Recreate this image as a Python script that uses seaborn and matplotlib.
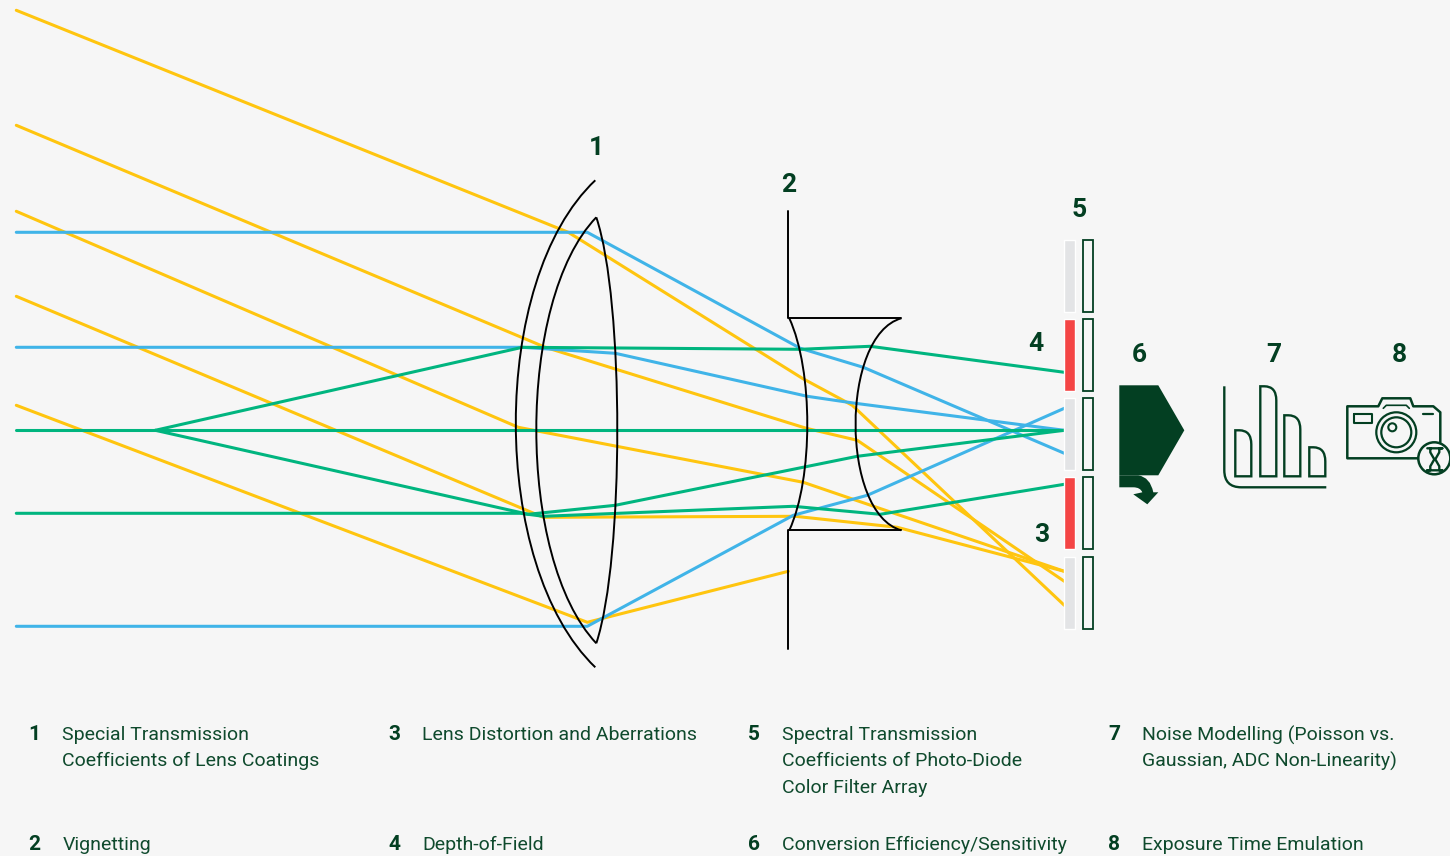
# Optical path of a camera simulation: rays, lenses, sensor and legend
import matplotlib
matplotlib.use("Agg")

import matplotlib.pyplot as plt
import pandas as pd
import seaborn as sns
from matplotlib.patches import Circle, PathPatch, Polygon
from matplotlib.path import Path

# ==========================================================
# RAYS (pixel space)
# ==========================================================

yellow_1 = [(16, 10), (568, 232), (802, 378), (852, 405), (1064, 605)]
yellow_2 = [(16, 125), (545, 347), (806, 428), (857, 440), (1064, 581)]
yellow_3 = [(16, 211), (518, 427), (803, 482), (1064, 571)]
yellow_4 = [(16, 296), (543, 517), (795, 516), (897, 527), (1064, 571)]
yellow_5 = [(16, 405), (587, 622), (788, 571)]

blue_1 = [(16, 232), (587, 232), (800, 348), (863, 367), (1064, 453)]
blue_2 = [(16, 347), (522, 347), (615, 353), (807, 396), (855, 403), (1064, 430)]
blue_3 = [(16, 626), (587, 626), (793, 515), (867, 495), (1064, 408)]

green_1 = [(16, 430), (1064, 430)]
green_2 = [(155, 430), (522, 347), (800, 349), (870, 346), (1064, 372)]
green_3 = [(155, 430), (528, 514), (615, 505), (857, 456), (1064, 430)]
green_4 = [(16, 513), (520, 513), (543, 516), (793, 506), (880, 514), (1064, 484)]

rays = {
    "yellow": [yellow_1, yellow_2, yellow_3, yellow_4, yellow_5],
    "blue": [blue_1, blue_2, blue_3],
    "green": [green_1, green_2, green_3, green_4],
}

# ==========================================================
# LENSES AND SENSOR
# ==========================================================

# cubic curves: start, control, control, end
lens_curves = [
    [(595, 180), (489, 280), (489, 565), (595, 667)],
    [(596, 217), (516, 300), (516, 558), (596, 643)],
    [(596, 217), (624, 300), (624, 558), (596, 643)],
    [(789, 318), (813, 370), (813, 478), (789, 530)],
    [(901, 318), (840, 335), (840, 513), (901, 530)],
]
lens_lines = [
    [(788, 211), (788, 318), (901, 318)],
    [(788, 649), (788, 530), (901, 530)],
]

sensor_tops = [240, 319, 398, 477, 557]
sensor_colors = ["#E3E4E6", "#F44545", "#E3E4E6", "#F44545", "#E3E4E6"]

# ==========================================================
# TEXT
# ==========================================================

diagram_numbers = ["1", "2", "5", "4", "3", "6", "7", "8"]
diagram_number_x = [596, 788, 1079, 1036, 1041, 1139, 1274, 1399]
diagram_number_y = [155, 192, 217, 351, 542, 362, 362, 362]

legend_numbers = ["1", "3", "5", "7", "2", "4", "6", "8"]
legend_number_x = [28, 388, 748, 1108, 28, 388, 748, 1108]
legend_number_y = [740, 740, 740, 740, 850, 850, 850, 850]

legend_lines = [
    "Special Transmission", "Coefficients of Lens Coatings",
    "Lens Distortion and Aberrations",
    "Spectral Transmission", "Coefficients of Photo-Diode", "Color Filter Array",
    "Noise Modelling (Poisson vs.", "Gaussian, ADC Non-Linearity)",
    "Vignetting", "Depth-of-Field",
    "Conversion Efficiency/Sensitivity", "Exposure Time Emulation",
]
legend_line_x = [62, 62, 422, 782, 782, 782, 1142, 1142, 62, 422, 782, 1142]
legend_line_y = [740, 766, 740, 740, 766, 793, 740, 766, 850, 850, 850, 850]

BACKGROUND = "#F6F6F6"
DARK_GREEN = "#033F22"
TEXT_GREEN = "#0F4A2D"
palette = {"yellow": "#FFC50F", "blue": "#40B4E8", "green": "#00B57F"}

# ==========================================================
# FIGURE
# ==========================================================

sns.set_theme(style="white")
plt.rcParams["font.family"] = ["Roboto", "DejaVu Sans"]

fig = plt.figure(figsize=(14.5, 8.56), dpi=100, facecolor=BACKGROUND)
ax = fig.add_axes([0, 0, 1, 1], facecolor=BACKGROUND)

# long table for seaborn, one row per ray vertex
records = []
for family, family_rays in rays.items():
    for ray_id, ray in enumerate(family_rays):
        for order, (px, py) in enumerate(ray):
            records.append(
                {"family": family, "ray": ray_id, "order": order, "x": px, "y": py}
            )
ray_table = pd.DataFrame(records)

sns.lineplot(
    data=ray_table,
    x="x",
    y="y",
    hue="family",
    hue_order=["yellow", "blue", "green"],
    units="ray",
    estimator=None,
    sort=False,
    palette=palette,
    linewidth=2.2,
    legend=False,
    ax=ax,
)

# lens outlines
for curve in lens_curves:
    codes = [Path.MOVETO, Path.CURVE4, Path.CURVE4, Path.CURVE4]
    ax.add_patch(
        PathPatch(Path(curve, codes), fill=False, edgecolor="black", linewidth=1.4, zorder=5)
    )
for line in lens_lines:
    xs, ys = zip(*line)
    ax.plot(xs, ys, color="black", linewidth=1.4, zorder=5)

# sensor: filter strip and photo-diode outlines
ax.bar([1069.5] * 5, [72] * 5, width=11, bottom=sensor_tops, color=sensor_colors, zorder=6)
ax.bar(
    [1088] * 5, [72] * 5, width=10, bottom=sensor_tops,
    facecolor="none", edgecolor=DARK_GREEN, linewidth=1.3, zorder=6,
)

# conversion block with the small curved arrow
ax.add_patch(
    Polygon(
        [(1119, 385), (1158, 385), (1184, 430), (1158, 475), (1119, 475)],
        color=DARK_GREEN, linewidth=0, zorder=6,
    )
)
arrow_path = Path(
    [(1119, 475), (1138, 475), (1150, 477), (1153, 492), (1158, 492), (1147, 504),
     (1133, 494), (1142, 492), (1140, 487), (1133, 487), (1119, 487), (1119, 475)],
    [Path.MOVETO, Path.LINETO, Path.CURVE3, Path.CURVE3, Path.LINETO, Path.LINETO,
     Path.LINETO, Path.LINETO, Path.CURVE3, Path.CURVE3, Path.LINETO, Path.CLOSEPOLY],
)
ax.add_patch(PathPatch(arrow_path, facecolor=DARK_GREEN, edgecolor="none", zorder=6))

# noise icon: axis and four round-topped bars
axis_path = Path(
    [(1224, 386), (1224, 470), (1224, 487), (1241, 487), (1326, 487)],
    [Path.MOVETO, Path.LINETO, Path.CURVE3, Path.CURVE3, Path.LINETO],
)
ax.add_patch(PathPatch(axis_path, fill=False, edgecolor=DARK_GREEN, linewidth=1.7, zorder=6))

bar_lefts = [1235, 1260, 1284, 1309]
bar_tops = [430, 386, 415, 447]
for left, top in zip(bar_lefts, bar_tops):
    right = left + 16
    bar_path = Path(
        [(left, 476), (left, top), (right - 12, top), (right, top), (right, top + 14),
         (right, 476), (left, 476)],
        [Path.MOVETO, Path.LINETO, Path.LINETO, Path.CURVE3, Path.CURVE3,
         Path.LINETO, Path.CLOSEPOLY],
    )
    ax.add_patch(PathPatch(bar_path, fill=False, edgecolor=DARK_GREEN, linewidth=1.7, zorder=6))

# camera icon
camera_body = [
    (1418, 458), (1347, 458), (1347, 406), (1378, 406), (1382, 398), (1410, 398),
    (1413, 406), (1433, 406), (1440, 412), (1440, 442),
]
xs, ys = zip(*camera_body)
ax.plot(xs, ys, color=DARK_GREEN, linewidth=1.8, zorder=6)
xs, ys = zip(*[(1383, 408), (1386, 405), (1406, 405), (1409, 408)])
ax.plot(xs, ys, color=DARK_GREEN, linewidth=1.2, zorder=6)
xs, ys = zip(*[(1354, 414), (1372, 414), (1372, 423), (1354, 423), (1354, 414)])
ax.plot(xs, ys, color=DARK_GREEN, linewidth=1.5, zorder=6)
ax.plot([1423, 1433], [414, 414], color=DARK_GREEN, linewidth=1.6, zorder=6)
for radius in (20, 15):
    ax.add_patch(Circle((1396, 432), radius, fill=False, edgecolor=DARK_GREEN, linewidth=1.6, zorder=6))
ax.add_patch(Circle((1392, 427), 4, fill=False, edgecolor=DARK_GREEN, linewidth=1.5, zorder=6))

# hourglass badge
ax.add_patch(Circle((1434, 458), 16, facecolor=BACKGROUND, edgecolor=DARK_GREEN, linewidth=1.8, zorder=7))
hourglass = [
    (1427, 448), (1442, 448), (1439, 448), (1439, 452), (1435, 459), (1439, 466), (1439, 470),
    (1442, 470), (1427, 470), (1430, 470), (1430, 466), (1434, 459), (1430, 452), (1430, 448),
]
xs, ys = zip(*hourglass)
ax.plot(xs, ys, color=DARK_GREEN, linewidth=1.7, zorder=8)

# numbers on the diagram
for label, px, py in zip(diagram_numbers, diagram_number_x, diagram_number_y):
    ax.text(px, py, label, color=DARK_GREEN, fontsize=19, fontweight="bold",
            ha="center", va="baseline", zorder=9)

# legend below the diagram
for label, px, py in zip(legend_numbers, legend_number_x, legend_number_y):
    ax.text(px, py, label, color=DARK_GREEN, fontsize=15, fontweight="bold",
            ha="left", va="baseline")
for label, px, py in zip(legend_lines, legend_line_x, legend_line_y):
    ax.text(px, py, label, color=TEXT_GREEN, fontsize=14, ha="left", va="baseline")

# small offset so read pixel indices sit close to pixel centres
ax.set_xlim(-0.3, 1449.7)
ax.set_ylim(855.7, -0.3)
ax.axis("off")

fig.savefig("out.png", dpi=100, facecolor=BACKGROUND)
